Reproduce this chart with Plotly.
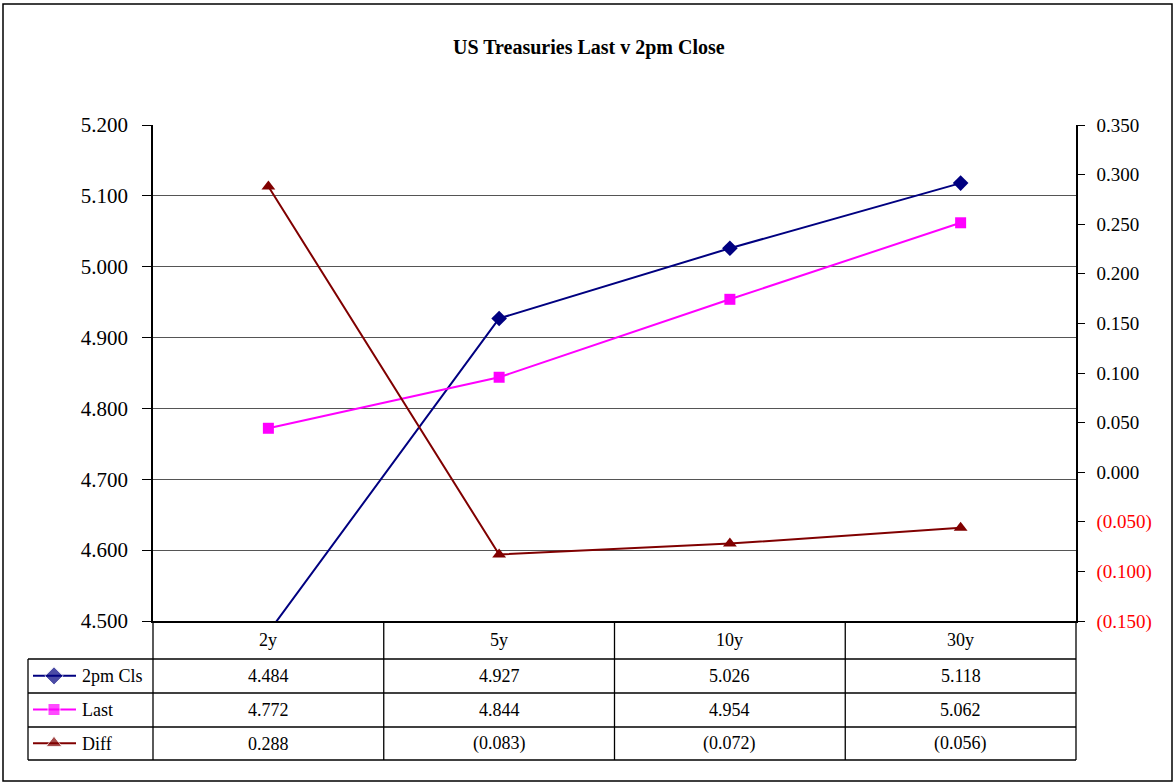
import plotly.graph_objects as go

# ---- data ----
categories = ["2y", "5y", "10y", "30y"]
cls_2pm = [4.484, 4.927, 5.026, 5.118]
last = [4.772, 4.844, 4.954, 5.062]
diff = [0.288, -0.083, -0.072, -0.056]
series_names = ["2pm Cls", "Last", "Diff"]
left_ticks = [4.5, 4.6, 4.7, 4.8, 4.9, 5.0, 5.1, 5.2]
right_ticks = [-0.15, -0.10, -0.05, 0.0, 0.05, 0.10, 0.15, 0.20, 0.25, 0.30, 0.35]

W, H = 1176, 784
FONT = "Liberation Serif"
COLORS = ["#000080", "#FF00FF", "#800000"]
SYMBOLS = ["diamond", "square", "triangle-up"]

# plot area in pixels
PX0, PX1, PY0, PY1 = 153, 1076, 125, 621
TABLE_LEFT = 28
ROW_LINES = [659, 693, 727, 760]


def px(x):
    return x / W


def py(y):
    return 1 - y / H


def fmt(v):
    return "({:.3f})".format(-v) if v < 0 else "{:.3f}".format(v)


def right_label(v):
    t = fmt(v)
    if v < 0:
        return '<span style="color:#FF0000">' + t + "</span>"
    return t


fig = go.Figure()

series = [cls_2pm, last, diff]
for i, (name, vals) in enumerate(zip(series_names, series)):
    fig.add_trace(go.Scatter(
        x=list(range(len(categories))), y=vals, name=name,
        mode="lines+markers",
        line=dict(color=COLORS[i], width=2),
        marker=dict(symbol=SYMBOLS[i], size=12 if i != 1 else 11, color=COLORS[i]),
        yaxis="y2" if name == "Diff" else "y",
        showlegend=False,
    ))

# legend keys in the data table (separate axes)
for i, name in enumerate(series_names):
    fig.add_trace(go.Scatter(
        x=[5, 26, 48], y=[i, i, i], xaxis="x3", yaxis="y3",
        mode="lines+markers",
        line=dict(color=COLORS[i], width=2),
        marker=dict(symbol=SYMBOLS[i], size=[0, 14 if i != 1 else 12, 0], color=COLORS[i]),
        showlegend=False, cliponaxis=False, hoverinfo="skip",
    ))

shapes = []
# outer border
shapes.append(dict(type="rect", xref="paper", yref="paper",
                   x0=px(3), x1=px(1172), y0=py(781), y1=py(4),
                   line=dict(color="black", width=1.5)))
# table vertical lines
ncat = len(categories)
colw = (PX1 - PX0) / ncat
for k in range(ncat + 1):
    xk = PX0 + k * colw
    shapes.append(dict(type="line", xref="paper", yref="paper",
                       x0=px(xk), x1=px(xk), y0=py(PY1), y1=py(ROW_LINES[-1]),
                       line=dict(color="black", width=1.3)))
# legend column left edge
shapes.append(dict(type="line", xref="paper", yref="paper",
                   x0=px(TABLE_LEFT), x1=px(TABLE_LEFT), y0=py(ROW_LINES[0]), y1=py(ROW_LINES[-1]),
                   line=dict(color="black", width=1.3)))
# table horizontal lines
for yl in ROW_LINES:
    shapes.append(dict(type="line", xref="paper", yref="paper",
                       x0=px(TABLE_LEFT), x1=px(PX1), y0=py(yl), y1=py(yl),
                       line=dict(color="black", width=1.3)))


def ann(text, x, y, size=18, xanchor="center"):
    return dict(text=text, xref="paper", yref="paper", x=x, y=y,
                xanchor=xanchor, yanchor="middle", showarrow=False,
                font=dict(family=FONT, size=size, color="black"))


annotations = [ann("<b>US Treasuries Last v 2pm Close</b>", px(589), py(48), size=20)]
# header row
for i, c in enumerate(categories):
    annotations.append(ann(c, px(PX0 + (i + 0.5) * colw), py((PY1 + ROW_LINES[0]) / 2)))
# data rows
for r, (name, vals) in enumerate(zip(series_names, series)):
    yc = (ROW_LINES[r] + ROW_LINES[r + 1]) / 2
    annotations.append(ann(name, px(80), py(yc), xanchor="left"))
    for i, v in enumerate(vals):
        annotations.append(ann(fmt(v), px(PX0 + (i + 0.5) * colw), py(yc)))

fig.update_layout(
    template="none",
    width=W, height=H,
    margin=dict(l=0, r=0, t=0, b=0, pad=0, autoexpand=False),
    paper_bgcolor="white", plot_bgcolor="white",
    font=dict(family=FONT, color="black"),
    xaxis=dict(domain=[px(PX0), px(PX1)], range=[-0.5, ncat - 0.5], automargin=False,
               showticklabels=False, ticks="", showgrid=False, zeroline=False,
               showline=True, linecolor="black", linewidth=1.5, fixedrange=True),
    yaxis=dict(domain=[py(PY1), py(PY0)], range=[left_ticks[0], left_ticks[-1]],
               automargin=False,
               tickvals=left_ticks, ticktext=[fmt(v) for v in left_ticks],
               ticks="outside", ticklen=9, tickcolor="black", tickwidth=1.3,
               ticklabelstandoff=10,
               showgrid=True, gridcolor="#555555", gridwidth=1, zeroline=False,
               showline=True, linecolor="black", linewidth=1.5,
               tickfont=dict(family=FONT, size=21, color="black")),
    yaxis2=dict(overlaying="y", side="right", range=[right_ticks[0], right_ticks[-1]],
                automargin=False,
                tickvals=right_ticks, ticktext=[right_label(v) for v in right_ticks],
                ticks="outside", ticklen=7, tickcolor="black", tickwidth=1.3,
                ticklabelstandoff=8,
                showgrid=False, zeroline=False,
                showline=True, linecolor="black", linewidth=1.5,
                tickfont=dict(family=FONT, size=19, color="black")),
    xaxis3=dict(domain=[px(TABLE_LEFT), px(PX0)], range=[0, PX0 - TABLE_LEFT],
                visible=False, fixedrange=True, automargin=False, anchor="y3"),
    yaxis3=dict(domain=[py(ROW_LINES[-1]), py(ROW_LINES[0])], range=[2.5, -0.5],
                visible=False, fixedrange=True, anchor="x3", automargin=False),
    shapes=shapes,
    annotations=annotations,
    showlegend=False,
)

fig.write_html("out.html", config={"displayModeBar": False},
               post_script="document.body.style.margin='0px';")
